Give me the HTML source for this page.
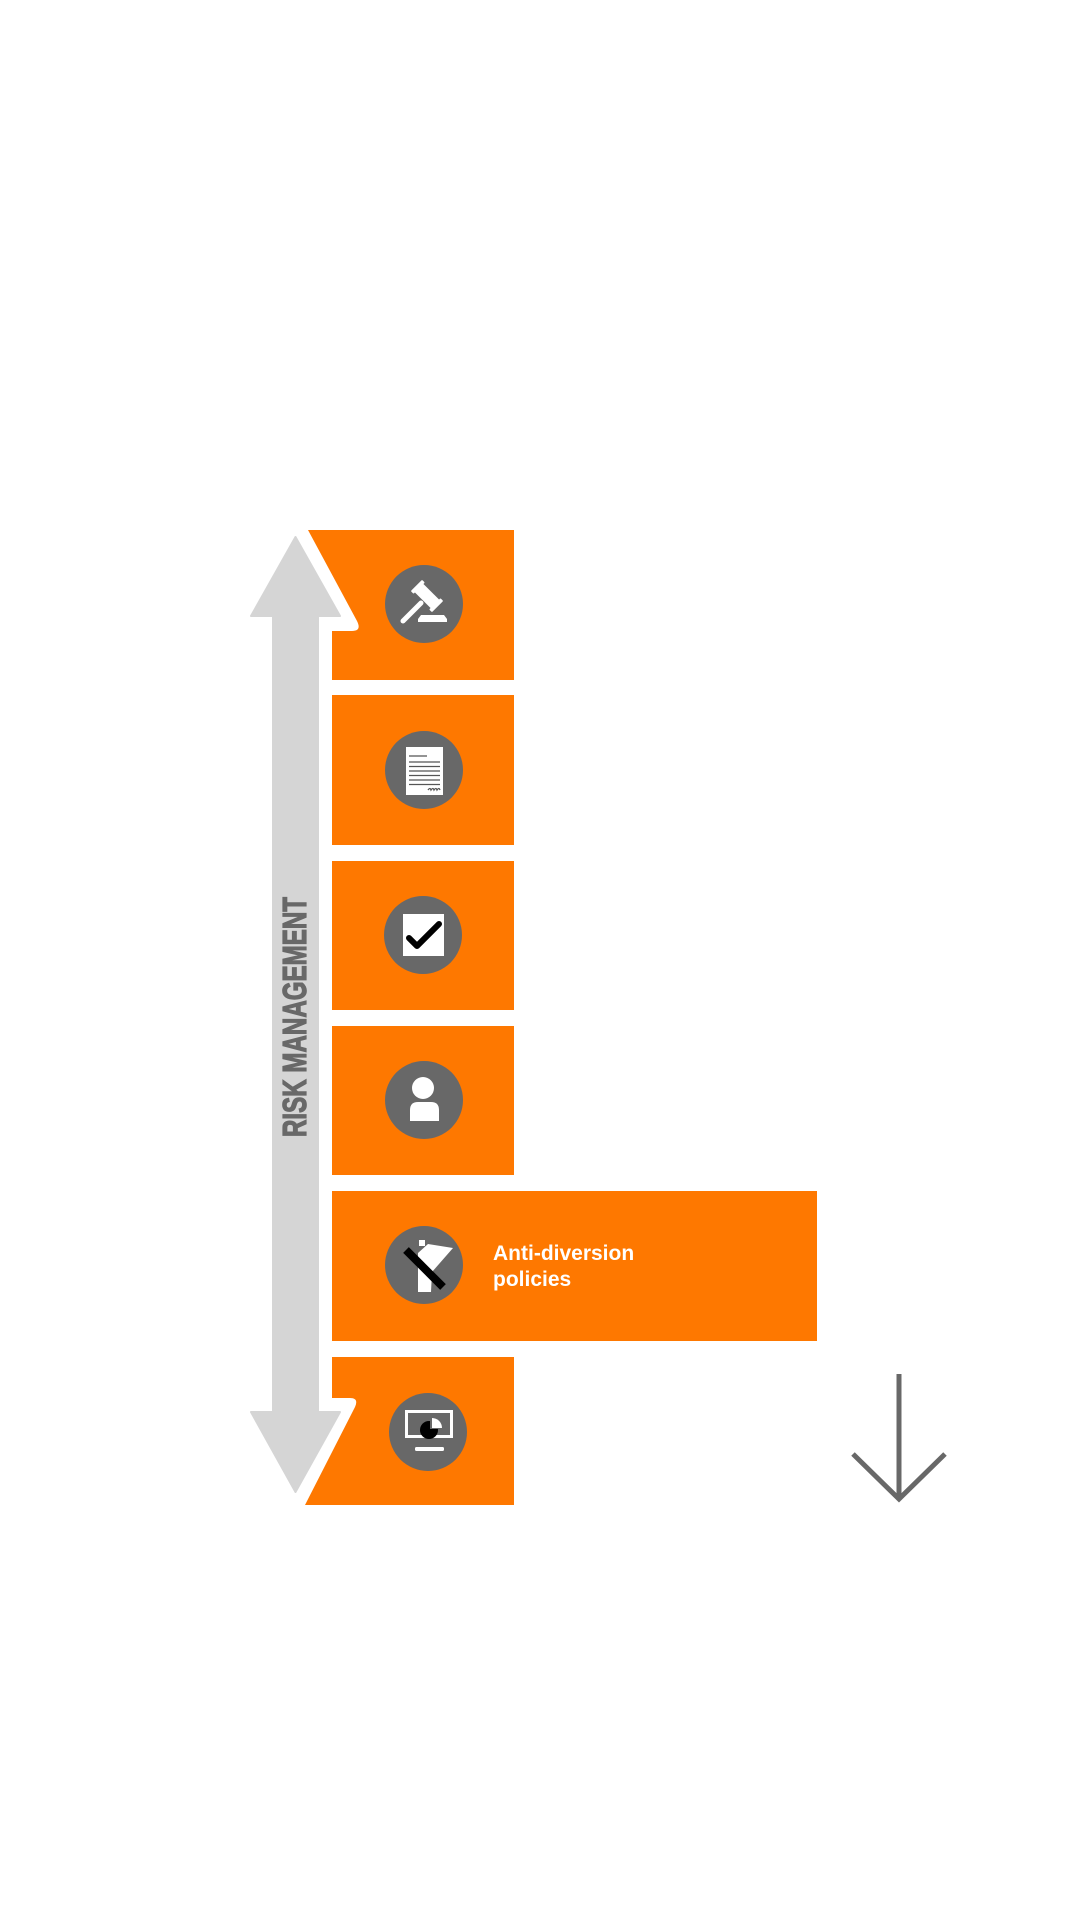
<!DOCTYPE html>
<html>
<head>
<meta charset="utf-8">
<style>
html,body{margin:0;padding:0;background:#fff;}
body{width:1080px;height:1920px;overflow:hidden;}
svg{display:block;}
</style>
</head>
<body>
<svg width="1080" height="1920" viewBox="0 0 1080 1920" xmlns="http://www.w3.org/2000/svg">
  <rect x="0" y="0" width="1080" height="1920" fill="#ffffff"/>

  <!-- Double-headed arrow -->
  <path d="M295.5,537 L340,616 L318,616 L318,1412 L340,1412 L295.5,1492 L251,1412 L273,1412 L273,616 L251,616 Z"
        fill="#d5d5d5" stroke="#d5d5d5" stroke-width="2" stroke-linejoin="round"/>
  <text x="0" y="0" transform="translate(306,1137) rotate(-90)" font-family="'Liberation Sans Narrow','Liberation Sans',sans-serif"
        font-weight="bold" font-size="33" fill="#686868" stroke="#686868" stroke-width="1.2" textLength="240" lengthAdjust="spacingAndGlyphs">RISK MANAGEMENT</text>

  <!-- Orange boxes -->
  <path d="M308,530 H514 V680 H332 V631 H352 Q362,631 357,621 Z" fill="#fe7800"/>
  <rect x="332" y="695" width="182" height="150" fill="#fe7800"/>
  <rect x="332" y="861" width="182" height="149" fill="#fe7800"/>
  <rect x="332" y="1026" width="182" height="149" fill="#fe7800"/>
  <rect x="332" y="1191" width="485" height="150" fill="#fe7800"/>
  <path d="M332,1357 H514 V1505 H305 L355,1407 Q359,1398 350,1398 H332 Z" fill="#fe7800"/>

  <!-- Icon circles -->
  <circle cx="424" cy="604" r="39" fill="#686868"/>
  <circle cx="424" cy="770" r="39" fill="#686868"/>
  <circle cx="423" cy="935" r="39" fill="#686868"/>
  <circle cx="424" cy="1100" r="39" fill="#686868"/>
  <circle cx="424" cy="1265" r="39" fill="#686868"/>
  <circle cx="428" cy="1432" r="39" fill="#686868"/>

  <!-- Gavel -->
  <g fill="#fff">
    <line x1="403" y1="621" x2="421" y2="603" stroke="#fff" stroke-width="5" stroke-linecap="round"/>
    <g transform="rotate(-45 427 596)">
      <rect x="421" y="584" width="12" height="24" rx="1"/>
      <rect x="419" y="581" width="16" height="4" rx="1"/>
      <rect x="419" y="607" width="16" height="4" rx="1"/>
    </g>
    <path d="M421,615 H444 L447,619 V622 H418 V619 Z"/>
  </g>

  <!-- Document -->
  <rect x="406" y="747" width="37" height="48" fill="#fff"/>
  <g stroke="#555" stroke-width="1.3">
    <line x1="409" y1="756" x2="427" y2="756"/>
    <line x1="409" y1="762" x2="440" y2="762"/>
    <line x1="409" y1="766.5" x2="440" y2="766.5"/>
    <line x1="409" y1="771" x2="440" y2="771"/>
    <line x1="409" y1="775.5" x2="440" y2="775.5"/>
    <line x1="409" y1="780" x2="440" y2="780"/>
    <line x1="409" y1="784.5" x2="440" y2="784.5"/>
    <path d="M428,790 q2,-3 3,0 q2,-3 3,0 q2,-3 3,0 q2,-3 3,0" fill="none"/>
  </g>

  <!-- Checkbox -->
  <rect x="403" y="914" width="41" height="42" fill="#fff"/>
  <path d="M409,938 L417,946 L439,924" fill="none" stroke="#000" stroke-width="6" stroke-linecap="round" stroke-linejoin="round"/>

  <!-- Person -->
  <circle cx="423" cy="1088" r="11" fill="#fff"/>
  <path d="M410,1121 V1110 Q410,1102 418,1102 H431 Q439,1102 439,1110 V1121 Z" fill="#fff"/>

  <!-- Anti-diversion sign -->
  <rect x="419" y="1240" width="6" height="6" fill="#fff"/>
  <path d="M418,1253 L428,1244 L453,1248 L432,1272 L431,1292 H418 Z" fill="#fff"/>
  <line x1="406" y1="1250" x2="443" y2="1287" stroke="#000" stroke-width="8"/>

  <!-- Monitor -->
  <rect x="406.5" y="1411.5" width="45" height="25" fill="none" stroke="#fff" stroke-width="3"/>
  <circle cx="429" cy="1430" r="9" fill="#000"/>
  <path d="M430,1420 A9,9 0 0 1 439,1429 L430,1429 Z" fill="#686868"/>
  <path d="M432,1418 A10,10 0 0 1 442,1428 L432,1428 Z" fill="#fff"/>
  <rect x="415" y="1447" width="29" height="4" rx="1.5" fill="#fff"/>

  <!-- Label -->
  <text x="493" y="1260" font-family="'Liberation Sans',sans-serif" font-weight="bold" font-size="21" fill="#fff">Anti-diversion</text>
  <text x="493" y="1286" font-family="'Liberation Sans',sans-serif" font-weight="bold" font-size="21" fill="#fff">policies</text>

  <!-- Right down arrow -->
  <g stroke="#686868" stroke-width="5" fill="none" stroke-linecap="butt">
    <line x1="899" y1="1374" x2="899" y2="1498"/>
    <polyline points="853,1454 899,1499 945,1454" stroke-linejoin="miter"/>
  </g>
</svg>
</body>
</html>
